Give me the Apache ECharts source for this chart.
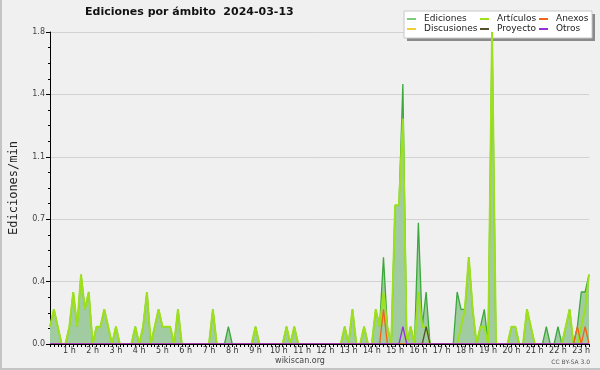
<!DOCTYPE html>
<html><head><meta charset="utf-8">
<script src="https://cdn.jsdelivr.net/npm/echarts@6/dist/echarts.min.js"></script>
<style>html,body{margin:0;padding:0;background:#f0f0f0}#c{width:600px;height:370px}</style>
</head><body><div id="c"></div>
<script>
// x axis: 10-minute samples from 00:10 to 23:20
const hourLabels = ['1 h','2 h','3 h','4 h','5 h','6 h','7 h','8 h','9 h','10 h','11 h','12 h','13 h','14 h','15 h','16 h','17 h','18 h','19 h','20 h','21 h','22 h','23 h'];
const seriesNames = ['Ediciones','Artículos','Anexos','Discusiones','Proyecto','Otros'];

const ediciones = [
0.1,0.2,0.1,0,0,0.1,0.3,0.1,0.4,0.2,0.3,0,
0.1,0.1,0.2,0.1,0,0.1,0,0,0,0,0.1,0,
0.1,0.3,0,0.1,0.2,0.1,0.1,0.1,0,0.2,0,0,
0,0,0,0,0,0,0.2,0,0,0,0.1,0,
0,0,0,0,0,0.1,0,0,0,0,0,0,
0,0.1,0,0.1,0,0,0,0,0,0,0,0,
0,0,0,0,0.1,0,0.2,0,0,0.1,0,0,
0.2,0.1,0.5,0.1,0,0.8,0.8,1.5,0,0.1,0,0.7,
0.1,0.3,0,0,0,0,0,0,0,0.3,0.2,0.2,
0.5,0.2,0,0.1,0.2,0,1.8,0,0,0,0,0.1,
0.1,0,0,0.2,0.1,0,0,0,0.1,0,0,0.1,
0,0.1,0.2,0,0.1,0.3,0.3,0.4];

const articulos = [
0.1,0.2,0.1,0,0,0.1,0.3,0.1,0.4,0.2,0.3,0,
0.1,0.1,0.2,0.1,0,0.1,0,0,0,0,0.1,0,
0.1,0.3,0,0.1,0.2,0.1,0.1,0.1,0,0.2,0,0,
0,0,0,0,0,0,0.2,0,0,0,0,0,
0,0,0,0,0,0.1,0,0,0,0,0,0,
0,0.1,0,0.1,0,0,0,0,0,0,0,0,
0,0,0,0,0.1,0,0.2,0,0,0.1,0,0,
0.2,0.1,0.3,0.1,0,0.8,0.8,1.3,0,0.1,0,0.3,
0.1,0.1,0,0,0,0,0,0,0,0,0.1,0.2,
0.5,0.2,0,0.1,0.1,0,1.8,0,0,0,0,0.1,
0.1,0,0,0.2,0.1,0,0,0,0,0,0,0,
0,0.1,0.2,0,0,0.1,0.2,0.4];

const anexos = [
0,0,0,0,0,0,0,0,0,0,0,0,
0,0,0,0,0,0,0,0,0,0,0,0,
0,0,0,0,0,0,0,0,0,0,0,0,
0,0,0,0,0,0,0,0,0,0,0,0,
0,0,0,0,0,0,0,0,0,0,0,0,
0,0,0,0,0,0,0,0,0,0,0,0,
0,0,0,0,0,0,0,0,0,0,0,0,
0,0,0.2,0,0,0,0,0,0,0,0,0,
0,0,0,0,0,0,0,0,0,0,0,0,
0,0,0,0,0,0,0,0,0,0,0,0,
0,0,0,0,0,0,0,0,0,0,0,0,
0,0,0,0,0.1,0,0.1,0];

const discusiones = [
0,0,0,0,0,0,0,0,0,0,0,0,
0,0,0,0,0,0,0,0,0,0,0,0,
0,0,0,0,0,0,0,0,0,0,0,0,
0,0,0,0,0,0,0,0,0,0,0,0,
0,0,0,0,0,0,0,0,0,0,0,0,
0,0,0,0,0,0,0,0,0,0,0,0,
0,0,0,0,0,0,0,0,0,0,0,0,
0,0,0,0,0,0,0,0,0,0,0,0,
0,0,0,0,0,0,0,0,0,0,0,0,
0,0,0,0,0,0,0,0,0,0,0,0,
0,0,0,0,0,0,0,0,0,0,0,0,
0,0,0,0,0,0,0,0];

const proyecto = [
0,0,0,0,0,0,0,0,0,0,0,0,
0,0,0,0,0,0,0,0,0,0,0,0,
0,0,0,0,0,0,0,0,0,0,0,0,
0,0,0,0,0,0,0,0,0,0,0,0,
0,0,0,0,0,0,0,0,0,0,0,0,
0,0,0,0,0,0,0,0,0,0,0,0,
0,0,0,0,0,0,0,0,0,0,0,0,
0,0,0,0,0,0,0,0,0,0,0,0,
0,0.1,0,0,0,0,0,0,0,0,0,0,
0,0,0,0,0,0,0,0,0,0,0,0,
0,0,0,0,0,0,0,0,0,0,0,0,
0,0,0,0,0,0,0,0];

const otros = [
0,0,0,0,0,0,0,0,0,0,0,0,
0,0,0,0,0,0,0,0,0,0,0,0,
0,0,0,0,0,0,0,0,0,0,0,0,
0,0,0,0,0,0,0,0,0,0,0,0,
0,0,0,0,0,0,0,0,0,0,0,0,
0,0,0,0,0,0,0,0,0,0,0,0,
0,0,0,0,0,0,0,0,0,0,0,0,
0,0,0,0,0,0,0,0.1,0,0,0,0,
0,0,0,0,0,0,0,0,0,0,0,0,
0,0,0,0,0,0,0,0,0,0,0,0,
0,0,0,0,0,0,0,0,0,0,0,0,
0,0,0,0,0,0,0,0];

const times = [];
for (let k = 0; k < ediciones.length; k++) {
  const m = (k + 1) * 10;
  const hh = Math.floor(m / 60), mm = m % 60;
  times.push(hh + ':' + (mm < 10 ? '0' : '') + mm);
}

const colors = {
  'Ediciones': '#3aa83a',
  'Artículos': '#9ee01c',
  'Anexos': '#f26418',
  'Discusiones': '#f0cf3a',
  'Proyecto': '#55502e',
  'Otros': '#9a2fe0'
};

function lineSeries(name, data, width, extra) {
  return Object.assign({
    name: name, type: 'line', data: data,
    showSymbol: false, symbol: 'none', animation: false,
    lineStyle: { color: colors[name], width: width },
    itemStyle: { color: colors[name] },
    emphasis: { disabled: true }
  }, extra || {});
}

const chart = echarts.init(document.getElementById('c'), null, { renderer: 'canvas' });
const font = 'DejaVu Sans';
const legendBase = {
  orient: 'vertical', icon: 'rect', itemWidth: 9, itemHeight: 2, itemGap: 0,
  padding: 0, selectedMode: false,
  textStyle: { fontFamily: font, fontSize: 9, color: '#222', lineHeight: 10, padding: [0, 0, 0, 3] }
};

chart.setOption({
  backgroundColor: '#f0f0f0',
  animation: false,
  textStyle: { fontFamily: font },
  grid: { left: 46, right: 11, top: 32, bottom: 26, containLabel: false },
  legend: [
    Object.assign({}, legendBase, { left: 407, top: 14, data: [{ name: 'Ediciones', itemStyle: { color: '#7dcc7d' } }, 'Discusiones'] }),
    Object.assign({}, legendBase, { left: 480, top: 14, data: ['Artículos', 'Proyecto'] }),
    Object.assign({}, legendBase, { left: 539, top: 14, data: ['Anexos', 'Otros'] })
  ],
  xAxis: {
    type: 'category', data: times, boundaryGap: false, z: 10,
    axisLine: { lineStyle: { color: '#000', width: 1 } },
    axisTick: { show: true, interval: 0, length: 3, lineStyle: { color: '#000' } },
    axisLabel: {
      interval: function (idx, val) { return val.slice(-3) === ':00'; },
      formatter: function (val) { return hourLabels[parseInt(val, 10) - 1] || ''; },
      fontFamily: font, fontSize: 8, color: '#333', margin: 3
    },
    splitLine: { show: false }
  },
  yAxis: {
    type: 'value', min: 0, max: 1.8, interval: 0.36,
    name: 'Ediciones/min', nameLocation: 'middle', nameRotate: 90, nameGap: 30,
    nameTextStyle: { fontFamily: 'DejaVu Sans Mono', fontSize: 12, color: '#222' },
    axisLine: { show: true, lineStyle: { color: '#000', width: 1 } },
    axisTick: { show: true, length: 4, lineStyle: { color: '#000' } },
    minorTick: { show: true, splitNumber: 4, length: 2, lineStyle: { color: '#000' } },
    axisLabel: {
      fontFamily: font, fontSize: 8, color: '#444', margin: 5,
      formatter: function (v) { return v.toFixed(1); }
    },
    splitLine: { show: true, lineStyle: { color: '#d2d2d2', width: 1 } }
  },
  graphic: [
    { type: 'rect', z: 1, shape: { x: 407, y: 14, width: 188, height: 27 }, style: { fill: '#8a8a8a' } },
    { type: 'rect', z: 1, shape: { x: 404, y: 11, width: 188, height: 27 }, style: { fill: '#ffffff', stroke: '#c8c8c8', lineWidth: 1 } },
    { type: 'text', z: 5, left: 85, top: 7, style: { text: 'Ediciones por ámbito  2024-03-13', fontFamily: font, fontWeight: 'bold', fontSize: 11, fill: '#111' } },
    { type: 'text', z: 5, left: 'center', top: 357, style: { text: 'wikiscan.org', fontFamily: font, fontSize: 8, fill: '#444' } },
    { type: 'text', z: 5, right: 10, top: 359, style: { text: 'CC BY-SA 3.0', fontFamily: font, fontSize: 6, fill: '#555' } },
    { type: 'rect', z: 5, shape: { x: 0, y: 0, width: 2, height: 370 }, style: { fill: '#c4c4c4' } },
    { type: 'rect', z: 5, shape: { x: 0, y: 368, width: 600, height: 2 }, style: { fill: '#c4c4c4' } }
  ],
  series: [
    lineSeries('Ediciones', ediciones, 1.3, { areaStyle: { color: '#a1cca1', opacity: 1 }, z: 2 }),
    lineSeries('Artículos', articulos, 2, { z: 3 }),
    lineSeries('Discusiones', discusiones, 1.3, { z: 3 }),
    lineSeries('Proyecto', proyecto, 1.3, { z: 4 }),
    lineSeries('Anexos', anexos, 1.3, { z: 4 }),
    lineSeries('Otros', otros, 1.3, { z: 4 })
  ]
});
</script>
</body></html>
